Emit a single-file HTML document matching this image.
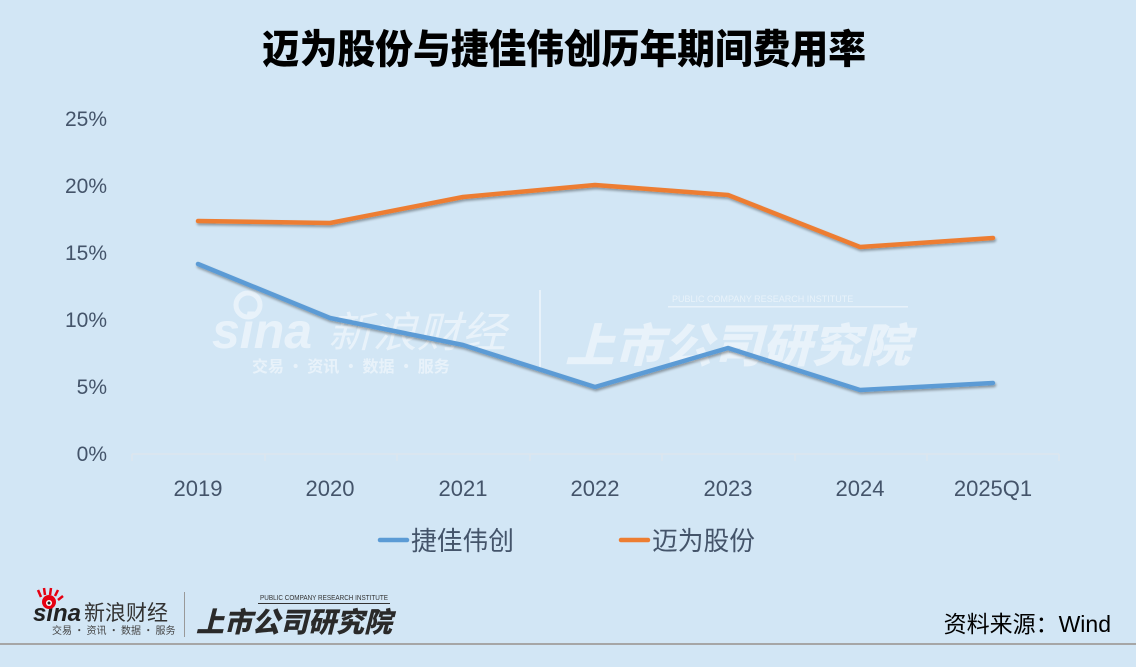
<!DOCTYPE html>
<html>
<head>
<meta charset="utf-8">
<style>
  html,body{margin:0;padding:0;}
  body{width:1136px;height:667px;background:#d2e6f5;overflow:hidden;position:relative;}
  svg{position:absolute;left:0;top:0;}
</style>
</head>
<body>
<svg width="1136" height="667" viewBox="0 0 1136 667" xmlns="http://www.w3.org/2000/svg">
  <defs>
    <filter id="sh" x="-5%" y="-20%" width="110%" height="140%">
      <feGaussianBlur in="SourceAlpha" stdDeviation="1.2"/>
      <feOffset dx="1" dy="2" result="b"/>
      <feComponentTransfer><feFuncA type="linear" slope="0.35"/></feComponentTransfer>
      <feMerge><feMergeNode/><feMergeNode in="SourceGraphic"/></feMerge>
    </filter>
  </defs>
  <rect x="0" y="0" width="1136" height="667" fill="#d2e6f5"/>

  <!-- Title -->
  <text x="262" y="63" font-family="'Noto Sans CJK SC','WenQuanYi Zen Hei',sans-serif" font-weight="900" font-size="40" fill="#000" textLength="604" lengthAdjust="spacingAndGlyphs">迈为股份与捷佳伟创历年期间费用率</text>

  <!-- Watermark -->
  <g fill="#ffffff" opacity="0.5">
    <text x="212" y="348" font-family="'Liberation Sans',sans-serif" font-weight="bold" font-style="italic" font-size="50">sina</text>
    <circle cx="248" cy="305" r="12" fill="none" stroke="#ffffff" stroke-width="5"/>
    <text x="328" y="347" font-family="'Noto Sans CJK SC',sans-serif" font-size="42" font-style="italic" textLength="178" lengthAdjust="spacingAndGlyphs">新浪财经</text>
    <text x="252" y="372" font-family="'Noto Sans CJK SC',sans-serif" font-size="16" font-weight="bold">交易 · 资讯 · 数据 · 服务</text>
    <rect x="539" y="290" width="2" height="78"/>
    <text x="565" y="362" font-family="'Noto Sans CJK SC',sans-serif" font-weight="900" font-size="46" font-style="italic" textLength="345" lengthAdjust="spacingAndGlyphs">上市公司研究院</text>
    <text x="672" y="302" font-family="'Liberation Sans',sans-serif" font-size="9">PUBLIC COMPANY RESEARCH INSTITUTE</text>
    <rect x="668" y="306" width="240" height="1.5"/>
  </g>

  <!-- Y axis labels -->
  <g font-family="'Liberation Sans',sans-serif" font-size="21" fill="#44546a" text-anchor="end">
    <text x="107" y="126">25%</text>
    <text x="107" y="193">20%</text>
    <text x="107" y="260">15%</text>
    <text x="107" y="327">10%</text>
    <text x="107" y="394">5%</text>
    <text x="107" y="461">0%</text>
  </g>

  <!-- X axis line + ticks -->
  <g stroke="#dde6ee" stroke-width="1.5" fill="none">
    <line x1="132" y1="454" x2="1059" y2="454"/>
    <line x1="132" y1="454" x2="132" y2="461"/>
    <line x1="265" y1="454" x2="265" y2="461"/>
    <line x1="397" y1="454" x2="397" y2="461"/>
    <line x1="530" y1="454" x2="530" y2="461"/>
    <line x1="662" y1="454" x2="662" y2="461"/>
    <line x1="795" y1="454" x2="795" y2="461"/>
    <line x1="927" y1="454" x2="927" y2="461"/>
    <line x1="1059" y1="454" x2="1059" y2="461"/>
  </g>

  <!-- X labels -->
  <g font-family="'Liberation Sans',sans-serif" font-size="22" fill="#44546a" text-anchor="middle">
    <text x="198" y="496">2019</text>
    <text x="330" y="496">2020</text>
    <text x="463" y="496">2021</text>
    <text x="595" y="496">2022</text>
    <text x="728" y="496">2023</text>
    <text x="860" y="496">2024</text>
    <text x="993" y="496">2025Q1</text>
  </g>

  <!-- Series -->
  <polyline filter="url(#sh)" fill="none" stroke="#ed7d31" stroke-width="4.5" stroke-linejoin="round" stroke-linecap="round"
    points="198,221 330,223 463,197 595,185 728,195 860,247 993,238"/>
  <polyline filter="url(#sh)" fill="none" stroke="#5b9bd5" stroke-width="4.5" stroke-linejoin="round" stroke-linecap="round"
    points="198,264 330,318 463,345 595,387 728,348 860,390 993,383"/>

  <!-- Legend -->
  <line x1="380" y1="540" x2="407" y2="540" stroke="#5b9bd5" stroke-width="4.5" stroke-linecap="round"/>
  <text x="411" y="550" font-family="'Liberation Sans','Noto Sans CJK SC',sans-serif" font-size="26" fill="#44546a" textLength="103" lengthAdjust="spacingAndGlyphs">捷佳伟创</text>
  <line x1="621" y1="540" x2="648" y2="540" stroke="#ed7d31" stroke-width="4.5" stroke-linecap="round"/>
  <text x="652" y="550" font-family="'Liberation Sans','Noto Sans CJK SC',sans-serif" font-size="26" fill="#44546a" textLength="103" lengthAdjust="spacingAndGlyphs">迈为股份</text>

  <!-- Footer logos -->
  <g>
    <text x="33" y="621" font-family="'Liberation Sans',sans-serif" font-weight="bold" font-style="italic" font-size="24" fill="#222">sina</text>
    <circle cx="49" cy="602" r="7" fill="#e60012"/>
    <circle cx="49" cy="603" r="3" fill="#fff"/>
    <circle cx="49" cy="603" r="1.5" fill="#222"/>
    <path d="M41 597 L38 590 M45 595 L44 588 M50 595 L51 588 M55 596 L58 590 M58 600 L63 596" stroke="#e60012" stroke-width="2.5"/>
    <text x="84" y="620" font-family="'Noto Sans CJK SC',sans-serif" font-size="21" fill="#333">新浪财经</text>
    <text x="52" y="634" font-family="'Noto Sans CJK SC',sans-serif" font-size="10" fill="#444">交易 · 资讯 · 数据 · 服务</text>
    <rect x="184" y="592" width="1" height="45" fill="#999"/>
    <text x="196" y="632" font-family="'Noto Sans CJK SC',sans-serif" font-weight="900" font-size="28" font-style="italic" fill="#2a2a2a" textLength="196" lengthAdjust="spacingAndGlyphs">上市公司研究院</text>
    <text x="260" y="600" font-family="'Liberation Sans',sans-serif" font-size="7" fill="#333" textLength="128" lengthAdjust="spacingAndGlyphs">PUBLIC COMPANY RESEARCH INSTITUTE</text>
    <rect x="258" y="603" width="132" height="1" fill="#333"/>
  </g>

  <text x="1111" y="632" text-anchor="end" font-family="'Liberation Sans','Noto Sans CJK SC',sans-serif" font-size="23" fill="#000">资料来源：Wind</text>

  <rect x="0" y="643" width="1136" height="2" fill="#a6a6a6"/>
</svg>
</body>
</html>
